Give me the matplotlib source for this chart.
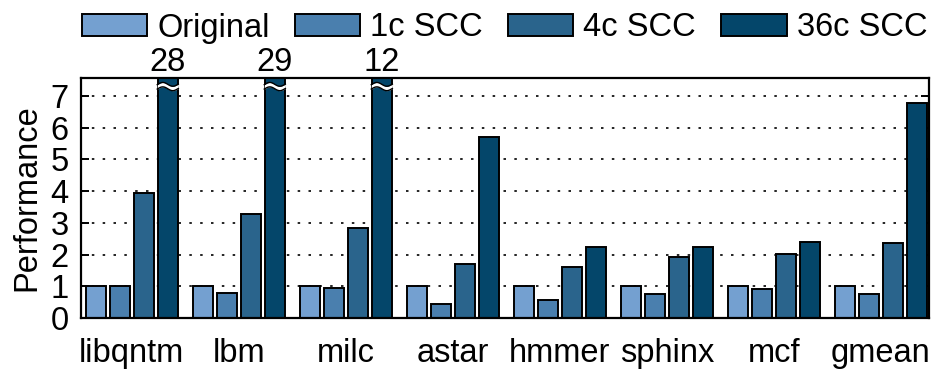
import numpy as np
import matplotlib
matplotlib.use("Agg")
import matplotlib.pyplot as plt

plt.rcParams['font.family'] = ['Liberation Sans', 'DejaVu Sans']

categories = ["libqntm", "lbm", "milc", "astar", "hmmer", "sphinx", "mcf", "gmean"]
series_names = ["Original", "1c SCC", "4c SCC", "36c SCC"]
original = [1, 1, 1, 1, 1, 1, 1, 1]
scc_1c = [1.0, 0.78, 0.94, 0.44, 0.58, 0.77, 0.91, 0.75]
scc_4c = [3.95, 3.27, 2.85, 1.71, 1.62, 1.91, 2.02, 2.35]
scc_36c = [28, 29, 12, 5.72, 2.23, 2.25, 2.40, 6.77]
colors = ["#74A0D0", "#4A7FAE", "#2A648C", "#04466A"]
yticks = [0, 1, 2, 3, 4, 5, 6, 7]

YMAX = 7.57
FS = 23.5
series = [original, scc_1c, scc_4c, scc_36c]

fig = plt.figure(figsize=(9.31, 3.75), dpi=100)
ax = fig.add_axes([0.087, 0.152, 0.911, 0.640])

x = np.arange(len(categories))
w = 0.187
step = 0.224
handles = []
for i, (vals, c, name) in enumerate(zip(series, colors, series_names)):
    pos = x + (i - 1.5) * step
    b = ax.bar(pos, vals, width=w, color=c, edgecolor="black", linewidth=1.4,
               label=name, zorder=3)
    handles.append(b)
    for p, v in zip(pos, vals):
        if v > YMAX:
            xs = np.linspace(p - w / 2 - 0.005, p + w / 2 + 0.005, 60)
            yb = 7.3 + 0.06 * np.sin(2 * np.pi * (xs - (p - w / 2)) / w)
            ax.fill_between(xs, yb - 0.07, yb + 0.07, color="white", zorder=4, lw=0)
            ax.plot(xs, yb - 0.07, color="black", lw=1.0, zorder=5)
            ax.plot(xs, yb + 0.07, color="black", lw=1.0, zorder=5)
            ax.text(p, 7.78, f"{v:g}", ha="center", va="baseline", fontsize=FS,
                    clip_on=False)

ax.set_xlim(-0.475, 7.45)
ax.set_ylim(0, YMAX)
ax.set_yticks(yticks)
ax.set_xticks(x)
ax.set_xticklabels(categories)
ax.tick_params(axis="x", length=0, pad=14.5, labelsize=FS)
ax.tick_params(axis="y", direction="in", length=6, width=1.4, labelsize=FS,
               right=True, pad=9)
ax.yaxis.grid(True, linestyle=(0, (1.5, 5)), color="black", lw=1.2, zorder=0)
ax.set_axisbelow(True)
ax.set_ylabel("Performance", fontsize=FS, labelpad=6)
for s in ax.spines.values():
    s.set_linewidth(1.6)
    s.set_zorder(6)

fig.legend(handles=handles, labels=series_names, loc="upper center",
           bbox_to_anchor=(0.542, 1.045), ncol=4, frameon=False, fontsize=FS,
           handlelength=2.0, handleheight=0.66, handletextpad=0.3, columnspacing=0.78)

fig.savefig("out.png", dpi=100)
